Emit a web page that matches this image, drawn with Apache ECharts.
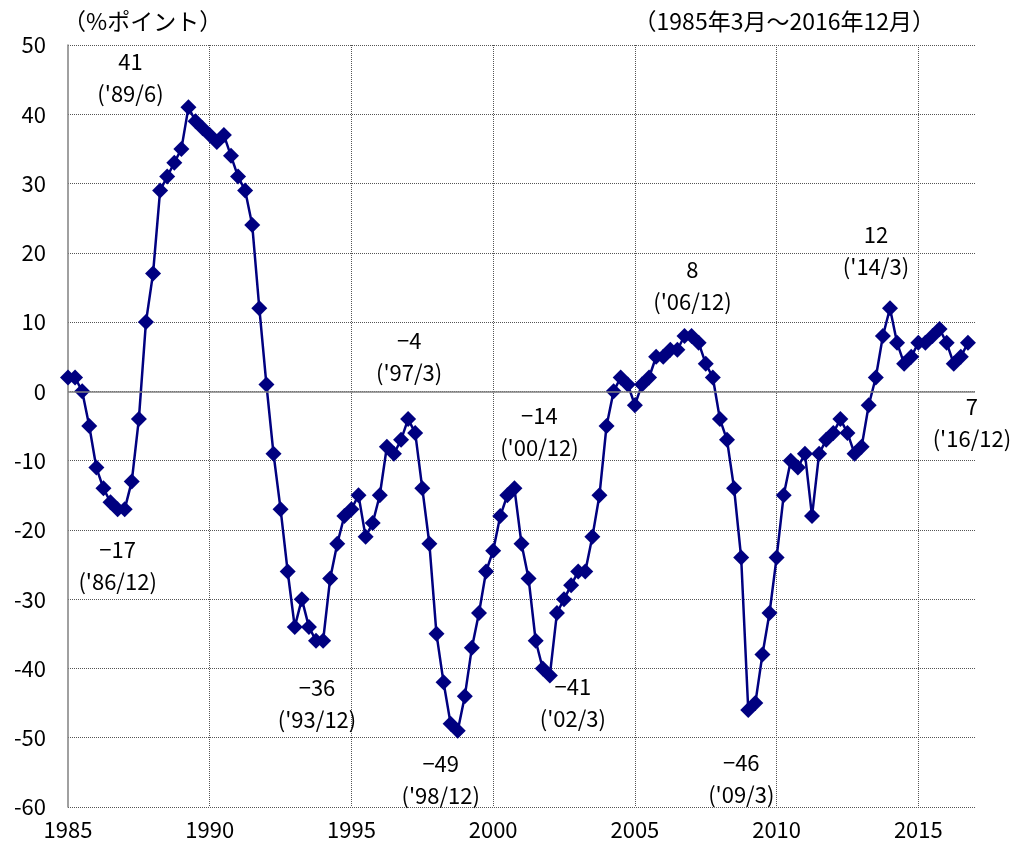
<!DOCTYPE html>
<html>
<head>
<meta charset="utf-8">
<script src="https://cdn.jsdelivr.net/npm/echarts@6/dist/echarts.min.js"></script>
<style>
html,body{margin:0;padding:0;background:#fff;}
#chart{width:1020px;height:847px;}
</style>
</head>
<body>
<div id="chart"></div>
<script>
// Quarterly values, 1985/3 .. 2016/12 (%ポイント)
const startYear = 1985;
const values = [
  2, 2, 0, -5,          // 1985
  -11, -14, -16, -17,   // 1986
  -17, -13, -4, 10,     // 1987
  17, 29, 31, 33,       // 1988
  35, 41, 39, 38,       // 1989
  37, 36, 37, 34,       // 1990
  31, 29, 24, 12,       // 1991
  1, -9, -17, -26,      // 1992
  -34, -30, -34, -36,   // 1993
  -36, -27, -22, -18,   // 1994
  -17, -15, -21, -19,   // 1995
  -15, -8, -9, -7,      // 1996
  -4, -6, -14, -22,     // 1997
  -35, -42, -48, -49,   // 1998
  -44, -37, -32, -26,   // 1999
  -23, -18, -15, -14,   // 2000
  -22, -27, -36, -40,   // 2001
  -41, -32, -30, -28,   // 2002
  -26, -26, -21, -15,   // 2003
  -5, 0, 2, 1,          // 2004
  -2, 1, 2, 5,          // 2005
  5, 6, 6, 8,           // 2006
  8, 7, 4, 2,           // 2007
  -4, -7, -14, -24,     // 2008
  -46, -45, -38, -32,   // 2009
  -24, -15, -10, -11,   // 2010
  -9, -18, -9, -7,      // 2011
  -6, -4, -6, -9,       // 2012
  -8, -2, 2, 8,         // 2013
  12, 7, 4, 5,          // 2014
  7, 7, 8, 9,           // 2015
  7, 4, 5, 7            // 2016
];
// Annotated turning points (index into values) and their date labels
const annotIndex = [17, 7, 35, 48, 55, 63, 68, 87, 96, 116, 127];
const annotDates = ["('89/6)", "('86/12)", "('93/12)", "('97/3)", "('98/12)", "('00/12)", "('02/3)", "('06/12)", "('09/3)", "('14/3)", "('16/12)"];
// Axis ticks
const yTicks = [50, 40, 30, 20, 10, 0, -10, -20, -30, -40, -50, -60];
const xTickYears = [1985, 1990, 1995, 2000, 2005, 2010, 2015];
const unitLabel = '（%ポイント）';
const periodLabel = '（1985年3月～2016年12月）';

// ---- styling / positioning (kept apart from data) ----
const annotOffsets = [[-58,-30],[0,57],[1,63],[1,-62],[-17,49],[25,-57],[23,27],[8,-50],[-7,69],[-14,-58],[4,80]];
const FONT = '"Noto Sans CJK JP", "Noto Sans", sans-serif';

const seriesData = values.map((v, i) => [startYear + i * 0.25, v]);
const fmtNum = v => (v < 0 ? '−' + Math.abs(v) : String(v));

const markData = annotIndex.map((idx, k) => ({
  coord: seriesData[idx],
  value: values[idx],
  label: {
    formatter: fmtNum(values[idx]) + '\n' + annotDates[k],
    offset: annotOffsets[k]
  }
}));

const chart = echarts.init(document.getElementById('chart'), null, {renderer: 'canvas'});
chart.setOption({
  backgroundColor: '#ffffff',
  animation: false,
  textStyle: {fontFamily: FONT},
  title: [
    {text: unitLabel, left: 58, top: 5, textStyle: {fontFamily: FONT, fontSize: 23, fontWeight: 'normal', color: '#000'}},
    {text: periodLabel, right: 80, top: 5, textStyle: {fontFamily: FONT, fontSize: 23, fontWeight: 'normal', color: '#000'}}
  ],
  grid: {left: 68, right: 45, top: 45, bottom: 40, containLabel: false},
  xAxis: {
    type: 'value',
    min: xTickYears[0],
    max: 2017,
    interval: 5,
    axisLine: {show: false},
    axisTick: {show: false},
    axisLabel: {
      fontFamily: FONT, fontSize: 22, color: '#000', margin: 12,
      showMaxLabel: false,
      formatter: v => (xTickYears.indexOf(v) >= 0 ? String(v) : '')
    },
    splitLine: {show: true, showMinLine: false, showMaxLine: false, lineStyle: {type: [1, 1], color: '#555', width: 1}}
  },
  yAxis: {
    type: 'value',
    min: yTicks[yTicks.length - 1],
    max: yTicks[0],
    interval: 10,
    axisLine: {show: true, lineStyle: {color: '#808080', width: 1.5}},
    axisTick: {show: false},
    axisLabel: {fontFamily: FONT, fontSize: 22, color: '#000', margin: 22},
    splitLine: {show: true, lineStyle: {type: [1, 1], color: '#555', width: 1}}
  },
  series: [{
    type: 'line',
    data: seriesData,
    symbol: 'diamond',
    symbolSize: 16,
    lineStyle: {color: '#000080', width: 2.5},
    itemStyle: {color: '#000080'},
    markLine: {
      silent: true,
      symbol: 'none',
      label: {show: false},
      lineStyle: {type: 'solid', color: '#808080', width: 1.5},
      data: [{yAxis: 0}]
    },
    markPoint: {
      silent: true,
      symbol: 'circle',
      symbolSize: 1,
      itemStyle: {color: 'rgba(0,0,0,0)'},
      label: {
        show: true,
        position: 'inside',
        fontFamily: FONT,
        fontSize: 22,
        lineHeight: 32,
        color: '#000',
        align: 'center'
      },
      data: markData
    }
  }]
});
</script>
</body>
</html>
